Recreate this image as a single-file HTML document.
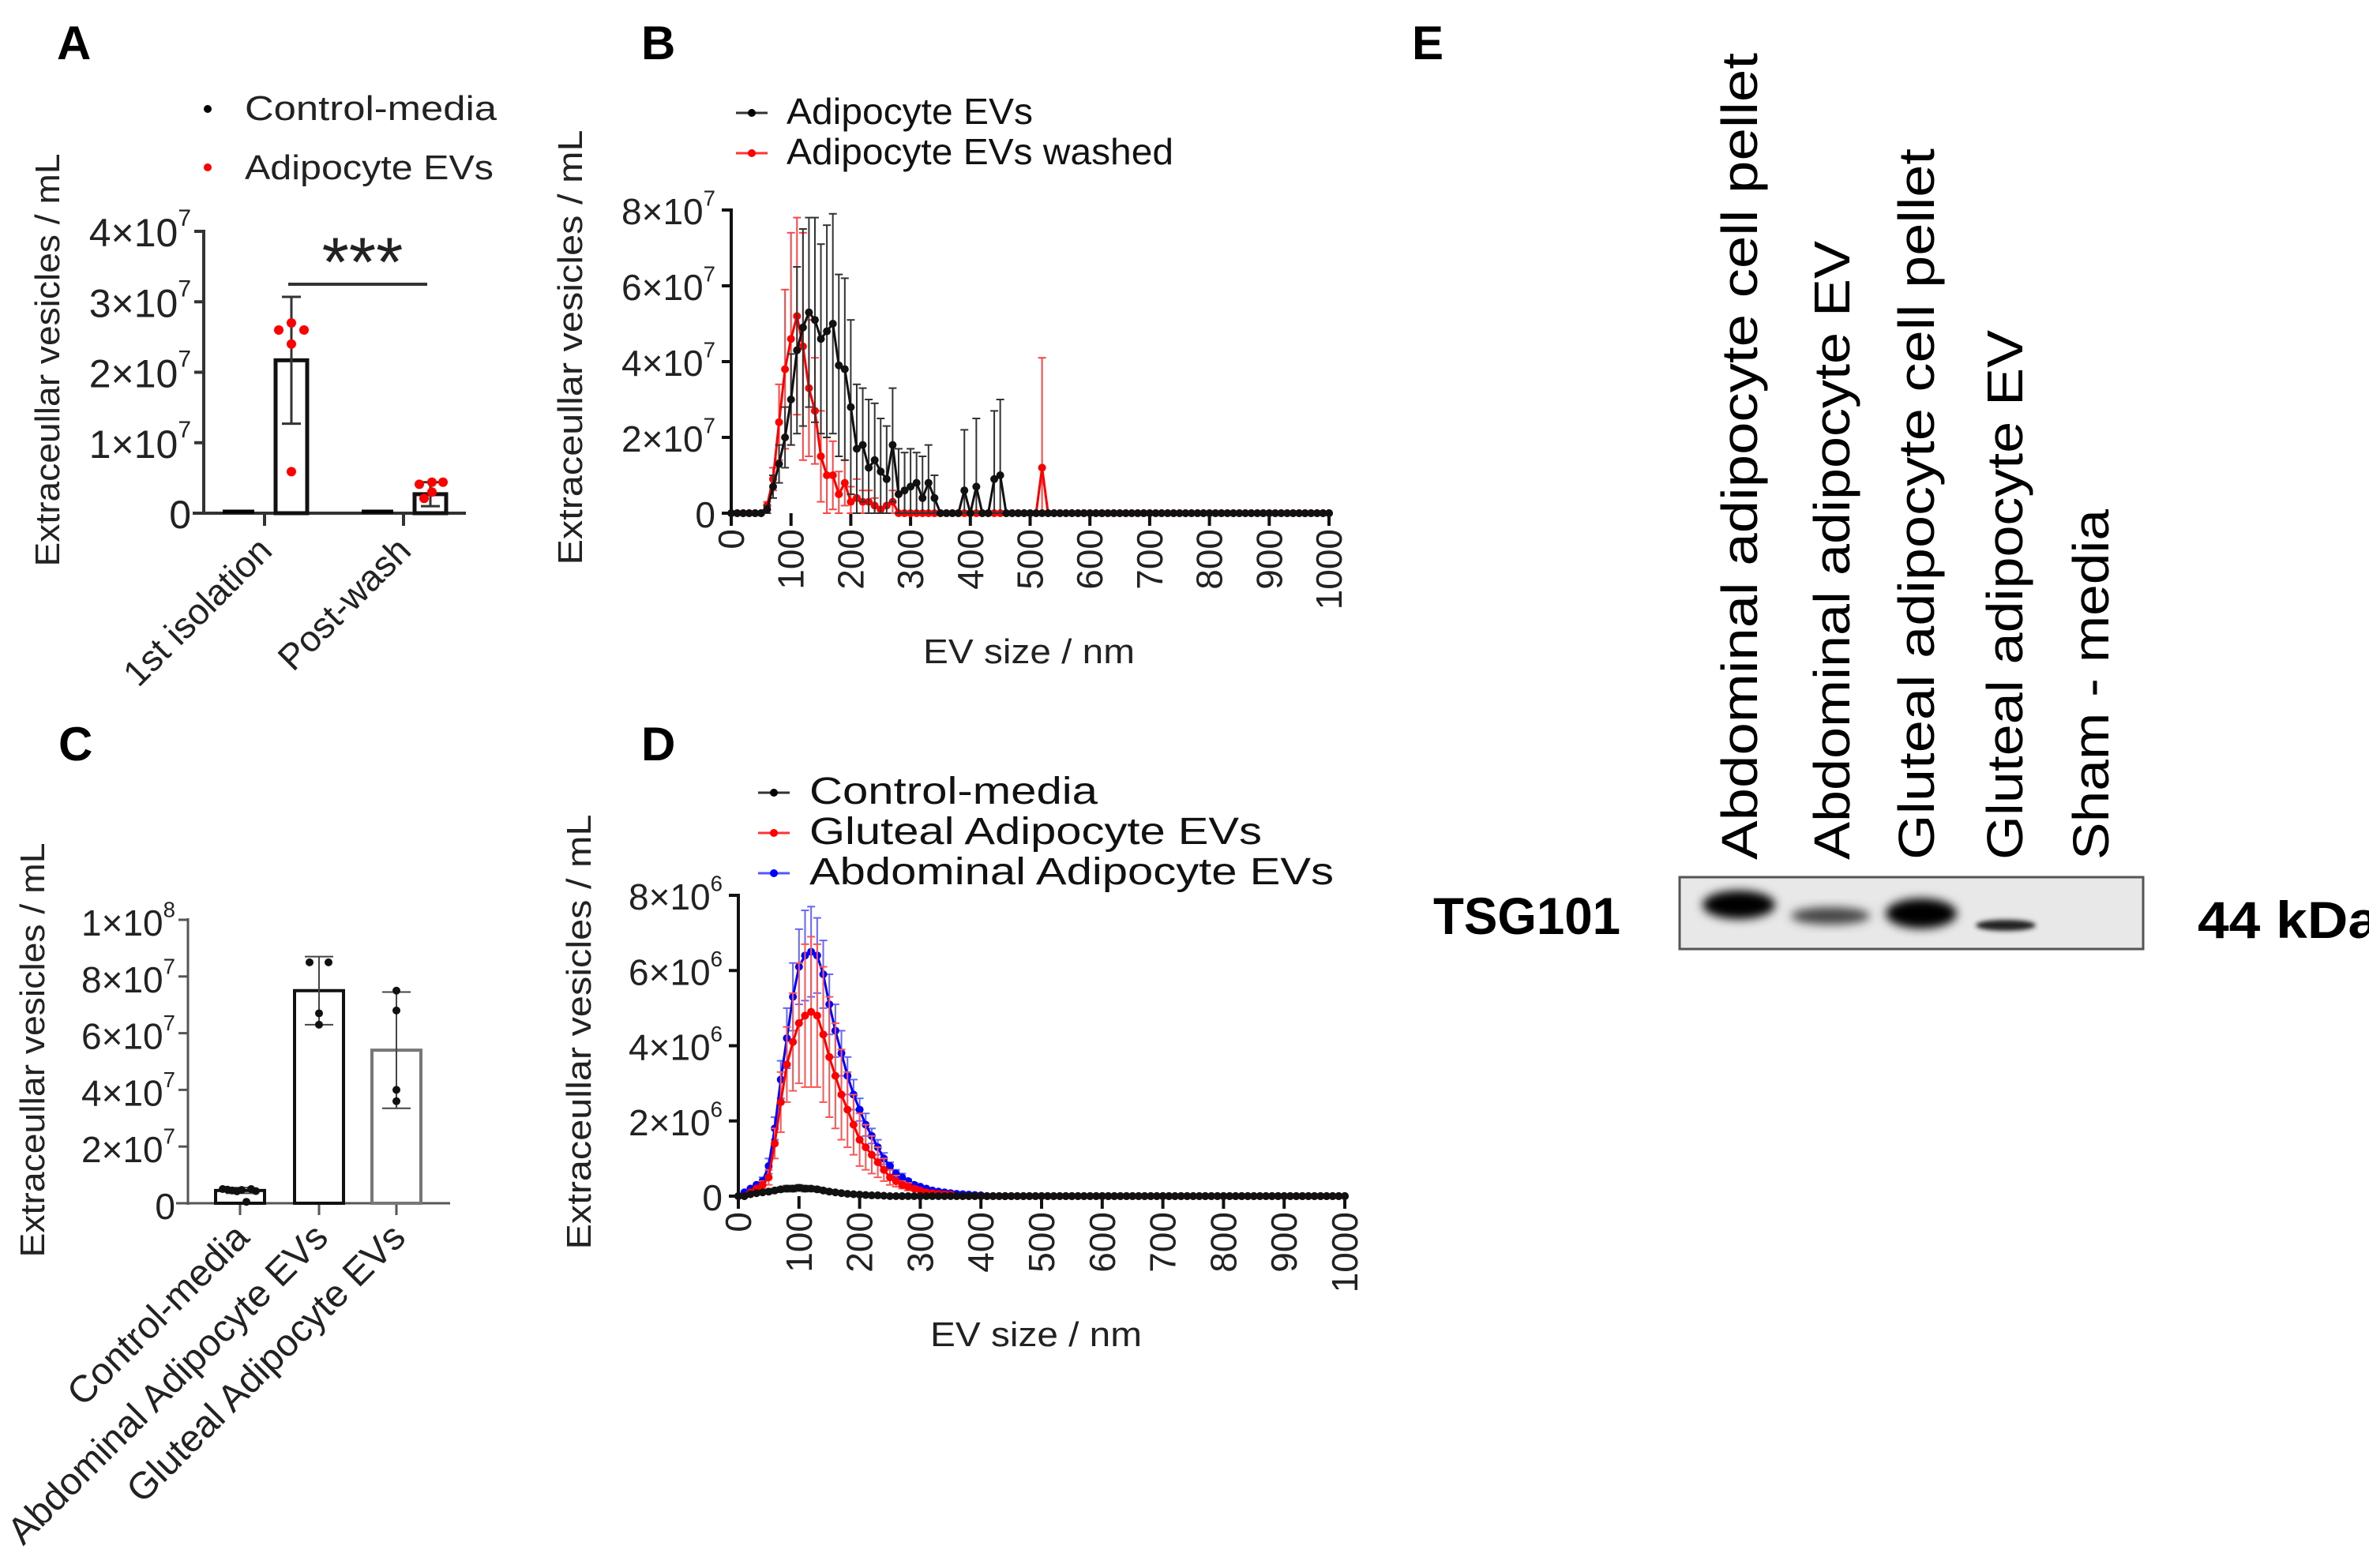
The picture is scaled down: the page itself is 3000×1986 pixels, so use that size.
<!DOCTYPE html>
<html><head><meta charset="utf-8">
<style>
html,body{margin:0;padding:0;background:#fff;}
svg{display:block;font-family:"Liberation Sans",sans-serif;}
</style></head>
<body>
<svg id="fig" xmlns="http://www.w3.org/2000/svg" width="3000" height="1986" viewBox="0 0 3000 1986">
<defs>
<filter id="blur6" x="-50%" y="-50%" width="200%" height="200%"><feGaussianBlur stdDeviation="6"/></filter>
<filter id="blur3" x="-50%" y="-50%" width="200%" height="200%"><feGaussianBlur stdDeviation="3"/></filter>
</defs>
<rect x="0" y="0" width="3000" height="1986" fill="#fff"/>

<text x="72" y="75" font-size="60" font-weight="bold">A</text>
<text x="812" y="75" font-size="60" font-weight="bold">B</text>
<text x="74" y="963" font-size="60" font-weight="bold">C</text>
<text x="812" y="963" font-size="60" font-weight="bold">D</text>
<text x="1788" y="75" font-size="60" font-weight="bold">E</text>

<circle cx="263" cy="138" r="5" fill="#000"/>
<text x="310" y="152" font-size="44" fill="#222" textLength="319" lengthAdjust="spacingAndGlyphs">Control-media</text>
<circle cx="263" cy="212" r="5" fill="#f00"/>
<text x="310" y="227" font-size="44" fill="#222" textLength="315" lengthAdjust="spacingAndGlyphs">Adipocyte EVs</text>
<text transform="translate(75,456) rotate(-90)" text-anchor="middle" font-size="44" fill="#222" textLength="523" lengthAdjust="spacingAndGlyphs">Extraceullar vesicles / mL</text>

<line x1="932" y1="143" x2="972" y2="143" stroke="#333" stroke-width="3"/>
<circle cx="952" cy="143" r="5" fill="#000"/>
<text x="996" y="157" font-size="46" fill="#111" textLength="312" lengthAdjust="spacingAndGlyphs">Adipocyte EVs</text>
<line x1="932" y1="194" x2="972" y2="194" stroke="#f33" stroke-width="3"/>
<circle cx="952" cy="194" r="5" fill="#f00"/>
<text x="996" y="208" font-size="46" fill="#111" textLength="490" lengthAdjust="spacingAndGlyphs">Adipocyte EVs washed</text>
<text transform="translate(737,440) rotate(-90)" text-anchor="middle" font-size="44" fill="#222" textLength="551" lengthAdjust="spacingAndGlyphs">Extraceullar vesicles / mL</text>
<text x="1303" y="840" text-anchor="middle" font-size="44" fill="#222" textLength="268" lengthAdjust="spacingAndGlyphs">EV size / nm</text>

<text transform="translate(56,1330) rotate(-90)" text-anchor="middle" font-size="44" fill="#222" textLength="525" lengthAdjust="spacingAndGlyphs">Extraceullar vesicles / mL</text>

<line x1="960" y1="1004" x2="1000" y2="1004" stroke="#333" stroke-width="3"/>
<circle cx="980" cy="1004" r="5" fill="#000"/>
<text x="1025" y="1018" font-size="48" fill="#111" textLength="365" lengthAdjust="spacingAndGlyphs">Control-media</text>
<line x1="960" y1="1055" x2="1000" y2="1055" stroke="#f33" stroke-width="3"/>
<circle cx="980" cy="1055" r="5" fill="#f00"/>
<text x="1025" y="1069" font-size="48" fill="#111" textLength="573" lengthAdjust="spacingAndGlyphs">Gluteal Adipocyte EVs</text>
<line x1="960" y1="1106" x2="1000" y2="1106" stroke="#55f" stroke-width="3"/>
<circle cx="980" cy="1106" r="5" fill="#00f"/>
<text x="1025" y="1120" font-size="48" fill="#111" textLength="664" lengthAdjust="spacingAndGlyphs">Abdominal Adipocyte EVs</text>
<text transform="translate(748,1307) rotate(-90)" text-anchor="middle" font-size="44" fill="#222" textLength="551" lengthAdjust="spacingAndGlyphs">Extraceullar vesicles / mL</text>
<text x="1312" y="1705" text-anchor="middle" font-size="44" fill="#222" textLength="268" lengthAdjust="spacingAndGlyphs">EV size / nm</text>

<text transform="translate(2225,1089) rotate(-90)" font-size="64" fill="#000" textLength="1022" lengthAdjust="spacingAndGlyphs">Abdominal adipocyte cell pellet</text>
<text transform="translate(2342,1089) rotate(-90)" font-size="64" fill="#000" textLength="784" lengthAdjust="spacingAndGlyphs">Abdominal adipocyte EV</text>
<text transform="translate(2449,1089) rotate(-90)" font-size="64" fill="#000" textLength="901" lengthAdjust="spacingAndGlyphs">Gluteal adipocyte cell pellet</text>
<text transform="translate(2561,1089) rotate(-90)" font-size="64" fill="#000" textLength="671" lengthAdjust="spacingAndGlyphs">Gluteal adipocyte EV</text>
<text transform="translate(2670,1089) rotate(-90)" font-size="64" fill="#000" textLength="444" lengthAdjust="spacingAndGlyphs">Sham - media</text>
<text x="1815" y="1183" font-size="66" font-weight="bold" fill="#000" textLength="237" lengthAdjust="spacingAndGlyphs">TSG101</text>
<text x="2783" y="1188" font-size="66" font-weight="bold" fill="#000" textLength="230" lengthAdjust="spacingAndGlyphs">44 kDa</text>
<g>
<rect x="2127" y="1111" width="587" height="91" fill="#e8e8e8" stroke="#555" stroke-width="3"/>
<ellipse cx="2202" cy="1146" rx="46" ry="18" fill="#000" filter="url(#blur6)"/>
<ellipse cx="2318" cy="1160" rx="50" ry="11" fill="#444" filter="url(#blur6)"/>
<ellipse cx="2433" cy="1157" rx="45" ry="19" fill="#000" filter="url(#blur6)"/>
<ellipse cx="2540" cy="1172" rx="38" ry="7" fill="#222" filter="url(#blur3)"/>
</g>
</svg>

<script>
// ---------- DATA ----------
const catsA = ['1st isolation', 'Post-wash'];
const meanControlA = [0.0, 0.0];
const meanAdipoA = [2.17e7, 0.27e7];
const sdAdipoA = [0.9e7, 0.17e7];
const ptsAdipoA1 = [2.6e7, 2.7e7, 2.6e7, 2.4e7, 0.59e7];
const ptsAdipoA2 = [0.41e7, 0.44e7, 0.44e7, 0.3e7, 0.21e7];
const ticksA = [0, 1e7, 2e7, 3e7, 4e7];
const tickLabA = [['0',''], ['1×10','7'], ['2×10','7'], ['3×10','7'], ['4×10','7']];

const catsC = ['Control-media', 'Abdominal Adipocyte EVs', 'Gluteal Adipocyte EVs'];
const meanC = [0.45e7, 7.5e7, 5.4e7];
const sdC = [0.1e7, 1.2e7, 2.05e7];
const ptsC0 = [0.5e7, 0.48e7, 0.45e7, 0.42e7, 0.47e7, 0.05e7, 0.5e7, 0.43e7];
const ptsC1 = [8.5e7, 8.5e7, 6.7e7, 6.3e7];
const ptsC2 = [7.5e7, 6.8e7, 4.0e7, 3.6e7];
const ticksC = [0, 2e7, 4e7, 6e7, 8e7, 1e8];
const tickLabC = [['0',''], ['2×10','7'], ['4×10','7'], ['6×10','7'], ['8×10','7'], ['1×10','8']];

const xTickLabels = ['0','100','200','300','400','500','600','700','800','900','1000'];
const ticksB = [0, 2, 4, 6, 8];
const tickLabB = [['0',''], ['2×10','7'], ['4×10','7'], ['6×10','7'], ['8×10','7']];
const bBlack = [0,0,0,0,0,0,0.1,0.7,1.3,2.0,
 3.0,4.3,4.9,5.3,5.1,4.6,4.8,5.0,3.9,3.8,
 2.8,1.7,1.8,1.2,1.4,1.1,0.9,1.8,0.5,0.6,
 0.7,0.8,0.4,0.8,0.4,0,0,0,0,0.6,
 0,0.7,0,0,0.9,1.0,0,0,0,0,
 0,0,0,0,0,0,0,0,0,0,
 0,0,0,0,0,0,0,0,0,0,
 0,0,0,0,0,0,0,0,0,0,
 0,0,0,0,0,0,0,0,0,0,
 0,0,0,0,0,0,0,0,0,0,
 0];
const bBlackSd = [0,0,0,0,0,0,0.1,0.3,0.5,0.8,
 1.2,2.2,2.6,2.5,2.7,2.5,2.8,2.9,2.4,2.4,
 2.3,1.7,1.5,1.8,1.5,1.4,1.4,1.5,1.2,1.0,
 1.0,0.8,1.1,1.0,0.6,0,0,0,0,1.6,
 0,1.8,0,0,1.8,2.0,0,0,0,0,
 0,0,0,0,0,0,0,0,0,0,
 0,0,0,0,0,0,0,0,0,0,
 0,0,0,0,0,0,0,0,0,0,
 0,0,0,0,0,0,0,0,0,0,
 0,0,0,0,0,0,0,0,0,0,
 0];
const bRed = [0,0,0,0,0,0,0.2,0.9,2.4,3.8,
 4.6,5.2,4.4,3.3,2.7,1.5,1.0,1.0,0.5,0.8,
 0.3,0.4,0.3,0.3,0.2,0.1,0.2,0.3,0,0,
 0,0,0,0,0,0,0,0,0,0,
 0,0,0,0,0,0,0,0,0,0,
 0,0,1.2,0,0,0,0,0,0,0,
 0,0,0,0,0,0,0,0,0,0,
 0,0,0,0,0,0,0,0,0,0,
 0,0,0,0,0,0,0,0,0,0,
 0,0,0,0,0,0,0,0,0,0,
 0];
const bRedSd = [0,0,0,0,0,0,0.1,0.3,1.0,2.1,
 2.8,2.6,3.0,1.8,1.4,1.2,1.0,0.9,0.6,0.6,
 0.4,0.5,0.3,0.3,0.2,0,0,0.3,0,0,
 0,0,0,0,0,0,0,0,0,0,
 0,0,0,0,0,0,0,0,0,0,
 0,0,2.9,0,0,0,0,0,0,0,
 0,0,0,0,0,0,0,0,0,0,
 0,0,0,0,0,0,0,0,0,0,
 0,0,0,0,0,0,0,0,0,0,
 0,0,0,0,0,0,0,0,0,0,
 0];

const ticksD = [0, 2, 4, 6, 8];
const tickLabD = [['0',''], ['2×10','6'], ['4×10','6'], ['6×10','6'], ['8×10','6']];
const dBlue = [0,0.1,0.2,0.3,0.4,0.8,1.8,3.1,4.2,5.3,
 6.1,6.4,6.5,6.4,5.9,5.1,4.4,3.8,3.2,2.7,
 2.3,1.9,1.6,1.3,1.0,0.8,0.6,0.5,0.4,0.3,
 0.25,0.2,0.15,0.12,0.1,0.08,0.06,0.05,0.04,0.03,
 0.02,0,0,0,0,0,0,0,0,0,
 0,0,0,0,0,0,0,0,0,0,
 0,0,0,0,0,0,0,0,0,0,
 0,0,0,0,0,0,0,0,0,0,
 0,0,0,0,0,0,0,0,0,0,
 0,0,0,0,0,0,0,0,0,0,
 0];
const dBlueSd = [0,0,0,0,0.1,0.2,0.3,0.5,0.8,0.9,
 1.0,1.2,1.2,1.0,0.9,0.8,0.7,0.6,0.5,0.4,
 0.3,0.3,0.2,0.2,0.15,0.1,0.1,0.1,0.05,0.05,
 0,0,0,0,0,0,0,0,0,0,
 0,0,0,0,0,0,0,0,0,0,
 0,0,0,0,0,0,0,0,0,0,
 0,0,0,0,0,0,0,0,0,0,
 0,0,0,0,0,0,0,0,0,0,
 0,0,0,0,0,0,0,0,0,0,
 0,0,0,0,0,0,0,0,0,0,
 0];
const dRed = [0,0,0.1,0.2,0.3,0.5,1.4,2.5,3.5,4.1,
 4.6,4.8,4.9,4.8,4.3,3.7,3.2,2.7,2.3,1.9,
 1.5,1.3,1.1,0.9,0.7,0.5,0.4,0.3,0.25,0.2,
 0.15,0.1,0.08,0.06,0.05,0.04,0,0,0,0,
 0,0,0,0,0,0,0,0,0,0,
 0,0,0,0,0,0,0,0,0,0,
 0,0,0,0,0,0,0,0,0,0,
 0,0,0,0,0,0,0,0,0,0,
 0,0,0,0,0,0,0,0,0,0,
 0,0,0,0,0,0,0,0,0,0,
 0];
const dRedSd = [0,0,0,0,0.1,0.2,0.4,0.8,1.0,1.3,
 1.6,1.9,2.0,1.9,1.8,1.6,1.4,1.2,1.0,0.8,
 0.7,0.6,0.5,0.4,0.3,0.2,0.15,0.1,0.1,0.05,
 0,0,0,0,0,0,0,0,0,0,
 0,0,0,0,0,0,0,0,0,0,
 0,0,0,0,0,0,0,0,0,0,
 0,0,0,0,0,0,0,0,0,0,
 0,0,0,0,0,0,0,0,0,0,
 0,0,0,0,0,0,0,0,0,0,
 0,0,0,0,0,0,0,0,0,0,
 0];
const dBlack = [0,0,0.05,0.08,0.1,0.12,0.15,0.18,0.2,0.2,
 0.22,0.2,0.2,0.18,0.15,0.12,0.1,0.08,0.06,0.05,
 0.04,0.03,0.02,0.02,0.01,0,0,0,0,0,
 0,0,0,0,0,0,0,0,0,0,
 0,0,0,0,0,0,0,0,0,0,
 0,0,0,0,0,0,0,0,0,0,
 0,0,0,0,0,0,0,0,0,0,
 0,0,0,0,0,0,0,0,0,0,
 0,0,0,0,0,0,0,0,0,0,
 0,0,0,0,0,0,0,0,0,0,
 0];
const dBlackSd = [0,0,0,0.03,0.03,0.05,0.05,0.06,0.08,0.08,
 0.08,0.08,0.06,0.06,0.05,0.05,0.04,0.03,0.03,0,
 0,0,0,0,0,0,0,0,0,0,
 0,0,0,0,0,0,0,0,0,0,
 0,0,0,0,0,0,0,0,0,0,
 0,0,0,0,0,0,0,0,0,0,
 0,0,0,0,0,0,0,0,0,0,
 0,0,0,0,0,0,0,0,0,0,
 0,0,0,0,0,0,0,0,0,0,
 0,0,0,0,0,0,0,0,0,0,
 0];

// ---------- DRAWING ----------
const NS = 'http://www.w3.org/2000/svg';
const svg = document.getElementById('fig');
function mk(tag, attrs, parent) {
  const el = document.createElementNS(NS, tag);
  for (const k in attrs) el.setAttribute(k, attrs[k]);
  (parent || svg).appendChild(el);
  return el;
}
function ln(x1, y1, x2, y2, color, w, name, parent) {
  const el = mk('line', {x1: x1, y1: y1, x2: x2, y2: y2, stroke: color, 'stroke-width': w}, parent);
  
  
  return el;
}
function dot(cx, cy, r, color, name, parent) {
  const el = mk('circle', {cx: cx, cy: cy, r: r, fill: color}, parent);
  
  
  return el;
}
function expLabel(x, y, lab, size, name) {
  const t = mk('text', {x: x, y: y, 'text-anchor': 'end', 'font-size': size, fill: '#222', 'dominant-baseline': 'central'});
  
  
  const a = mk('tspan', {}, t);
  a.textContent = lab[0];
  if (lab[1]) {
    const b = mk('tspan', {'font-size': size * 0.6, dy: -size * 0.38}, t);
    b.textContent = lab[1];
  }
  return t;
}
function errBar(x, yTop, yBot, cap, color, w, name, parent) {
  const g = mk('g', {}, parent);
  
  
  ln(x, yTop, x, yBot, color, w, 'error-bar-stem', g);
  ln(x - cap, yTop, x + cap, yTop, color, w, 'error-bar-cap-top', g);
  ln(x - cap, yBot, x + cap, yBot, color, w, 'error-bar-cap-bottom', g);
}

// ===== Panel A =====
const yA = v => 650 - v / 4e7 * 357;
const gA = mk('g', {});


ln(258, 291, 258, 652, '#333', 4, 'y-axis-a', gA);
ln(244, 650, 590, 650, '#333', 4, 'x-axis-a', gA);
ticksA.forEach((v, i) => {
  ln(246, yA(v), 258, yA(v), '#333', 4, 'y-tick-a', gA);
  expLabel(242, yA(v) + 2, tickLabA[i], 50, 'y-tick-label-a');
});
const catXA = [335, 511];
catsA.forEach((c, i) => {
  ln(catXA[i], 650, catXA[i], 666, '#333', 4, 'x-tick-a', gA);
  const t = mk('text', {transform: 'translate(' + (catXA[i] + 12) + ',700) rotate(-45)', 'text-anchor': 'end', 'font-size': 46, fill: '#222'});
  
  
  t.textContent = c;
  const cx = catXA[i] - 33;
  ln(cx - 20, yA(meanControlA[i]) - 2, cx + 20, yA(meanControlA[i]) - 2, '#000', 5, 'bar-control-media-a', gA);
  const bx = catXA[i] + 34;
  const r = mk('rect', {x: bx - 20, y: yA(meanAdipoA[i]), width: 40, height: 650 - yA(meanAdipoA[i]), fill: 'none', stroke: '#111', 'stroke-width': 5}, gA);
  
  
  errBar(bx, yA(meanAdipoA[i] + sdAdipoA[i]), yA(Math.max(0, meanAdipoA[i] - sdAdipoA[i])), 12, '#333', 3, 'error-bar-a', gA);
});
const offs = [-16, 0, 16, 0, 0];
ptsAdipoA1.forEach((v, j) => dot(catXA[0] + 34 + offs[j], yA(v), 6, '#f00', 'point-adipocyte-a', gA));
const offs2 = [-14, 2, 16, 2, -8];
ptsAdipoA2.forEach((v, j) => dot(catXA[1] + 34 + offs2[j], yA(v), 6, '#f00', 'point-adipocyte-a', gA));
ln(365, 360, 541, 360, '#333', 4, 'significance-line', gA);
const star = mk('text', {x: 459, y: 362, 'text-anchor': 'middle', 'font-size': 88, fill: '#222'}, gA);


star.textContent = '***';

// ===== Panel C =====
const yC = v => 1524 - v / 1e8 * 359;
const gC = mk('g', {});


ln(238, 1163, 238, 1526, '#555', 3, 'y-axis-c', gC);
ln(223, 1524, 570, 1524, '#555', 3, 'x-axis-c', gC);
ticksC.forEach((v, i) => {
  ln(226, yC(v), 238, yC(v), '#555', 3, 'y-tick-c', gC);
  expLabel(222, yC(v) + 4, tickLabC[i], 46, 'y-tick-label-c');
});
const catXC = [304, 404, 502];
const strokeC = ['#111', '#111', '#777'];
catsC.forEach((c, i) => {
  ln(catXC[i], 1524, catXC[i], 1539, '#555', 3, 'x-tick-c', gC);
  const t = mk('text', {transform: 'translate(' + (catXC[i] + 14) + ',1570) rotate(-45)', 'text-anchor': 'end', 'font-size': 48, fill: '#222'});
  
  
  t.textContent = c;
  const r = mk('rect', {x: catXC[i] - 31, y: yC(meanC[i]), width: 62, height: 1524 - yC(meanC[i]), fill: 'none', stroke: strokeC[i], 'stroke-width': 4}, gC);
  
  
  errBar(catXC[i], yC(meanC[i] + sdC[i]), yC(Math.max(0, meanC[i] - sdC[i])), 18, '#444', 2, 'error-bar-c', gC);
});
ptsC0.forEach((v, j) => dot(catXC[0] - 22 + j * 6, yC(v), 5, '#111', 'point-control-c', gC));
const offC = [-12, 12, 0, 0];
ptsC1.forEach((v, j) => dot(catXC[1] + offC[j], yC(v), 5, '#111', 'point-abdominal-c', gC));
ptsC2.forEach((v, j) => dot(catXC[2], yC(v), 5, '#111', 'point-gluteal-c', gC));

// ===== Line charts (B, D) =====
function lineChart(cfg) {
  const g = mk('g', {});
  
  
  const xS = n => cfg.x0 + n / 1000 * (cfg.x1 - cfg.x0);
  const yS = v => cfg.y0 - v / cfg.ymax * (cfg.y0 - cfg.ytop);
  cfg.yticks.forEach((v, i) => {
    ln(cfg.x0 - 12, yS(v), cfg.x0, yS(v), '#111', 4, 'y-tick', g);
    expLabel(cfg.x0 - 20, yS(v) + 2, cfg.ylabels[i], 46, 'y-tick-label');
  });
  xTickLabels.forEach((lab, i) => {
    const x = xS(Number(lab));
    ln(x, cfg.y0, x, cfg.y0 + 16, '#111', 4, 'x-tick', g);
    const t = mk('text', {transform: 'translate(' + x + ',' + (cfg.y0 + 20) + ') rotate(-90)', 'text-anchor': 'end', 'dominant-baseline': 'central', 'font-size': 46, fill: '#222'}, g);
    
    
    t.textContent = lab;
  });
  cfg.series.forEach(s => {
    const sg = mk('g', {}, g);
    
    
    s.vals.forEach((v, i) => {
      const sd = s.sd[i];
      if (sd > 0) errBar(xS(i * 10), yS(v + sd), yS(Math.max(0, v - sd)), 5, s.err, 2, 'error-bar', sg);
    });
    const pts = s.vals.map((v, i) => xS(i * 10) + ',' + yS(v)).join(' ');
    const pl = mk('polyline', {points: pts, fill: 'none', stroke: s.color, 'stroke-width': 3}, sg);
    
    
    s.vals.forEach((v, i) => dot(xS(i * 10), yS(v), 5, s.color, 'data-point', sg));
  });
  ln(cfg.x0, cfg.ytop - 2, cfg.x0, cfg.y0 + 2, '#111', 4, 'y-axis', g);
}
lineChart({name: 'panel-b-line-chart', x0: 926, x1: 1683, y0: 650, ytop: 266, ymax: 8,
  yticks: ticksB, ylabels: tickLabB,
  series: [
    {name: 'series-adipocyte-evs-washed', vals: bRed, sd: bRedSd, color: '#f00', err: '#f44'},
    {name: 'series-adipocyte-evs', vals: bBlack, sd: bBlackSd, color: '#111', err: '#333'}
  ]});
lineChart({name: 'panel-d-line-chart', x0: 935, x1: 1703, y0: 1515, ytop: 1134, ymax: 8,
  yticks: ticksD, ylabels: tickLabD,
  series: [
    {name: 'series-abdominal-adipocyte-evs', vals: dBlue, sd: dBlueSd, color: '#0000ff', err: '#66f'},
    {name: 'series-gluteal-adipocyte-evs', vals: dRed, sd: dRedSd, color: '#f00', err: '#f55'},
    {name: 'series-control-media', vals: dBlack, sd: dBlackSd, color: '#111', err: '#333'}
  ]});
</script>
</body></html>
